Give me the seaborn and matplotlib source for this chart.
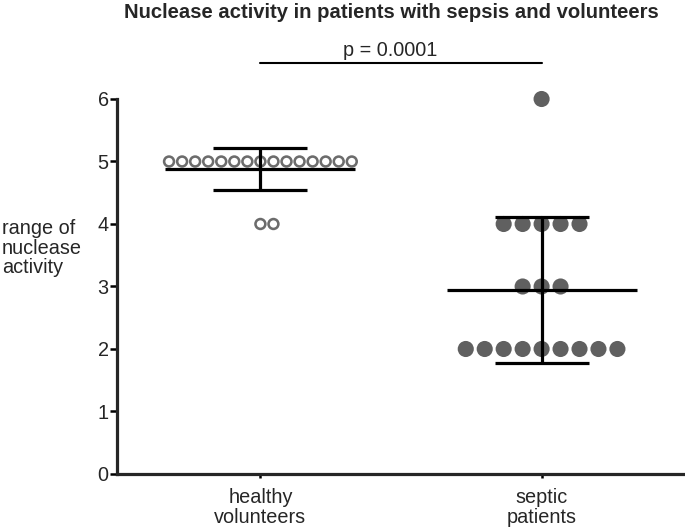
import seaborn as sns
import matplotlib.pyplot as plt
import pandas as pd
import numpy as np

# Data
groups = ['healthy\nvolunteers', 'septic\npatients']
healthy_values = [5] * 15 + [4] * 2
septic_values = [6] + [4] * 5 + [3] * 3 + [2] * 9
y_ticks = [0, 1, 2, 3, 4, 5, 6]
p_label = 'p = 0.0001'

df = pd.DataFrame({
    'group': [groups[0]] * len(healthy_values) + [groups[1]] * len(septic_values),
    'activity': healthy_values + septic_values,
})

sns.set_style('ticks')
plt.rcParams['font.family'] = ['Liberation Sans', 'DejaVu Sans']

fig = plt.figure(figsize=(6.85, 5.28), dpi=100)
ax = fig.add_axes([0.1708, 0.1023, 0.8292, 0.7102])

# edge width counts in the swarm spacing, so an invisible edge leaves small gaps
sns.swarmplot(data=df, x='group', y='activity', order=groups, hue='group',
              palette=['#6a6a6a', '#606060'], size=11.6, linewidth=1.4,
              edgecolor='none', legend=False, ax=ax, zorder=3)

# style each group's points (swarm layout is computed at draw time)
for coll in ax.collections:
    offs = coll.get_offsets()
    if len(offs) == 0:
        continue
    coll.set_clip_on(False)
    if round(float(np.mean(offs[:, 0]))) == 0:
        # healthy volunteers: open grey circles
        coll.set_sizes([7.1 ** 2])
        coll.set_facecolor('none')
        coll.set_edgecolor('#6c6c6c')
        coll.set_linewidth(1.85)
    else:
        coll.set_edgecolor('none')

# mean +/- SD
stats = df.groupby('group', sort=False)['activity'].agg(['mean', 'std'])
for i, g in enumerate(groups):
    m, s = stats.loc[g, 'mean'], stats.loc[g, 'std']
    ax.hlines(m, i - 0.338, i + 0.338, color='black', lw=2.3, zorder=4)
    ax.vlines(i, m - s, m + s, color='black', lw=2.3, zorder=4)
    ax.hlines([m - s, m + s], i - 0.167, i + 0.167, color='black', lw=2.3, zorder=4)

ax.set_xlim(-0.51, 1.51)
ax.set_ylim(0, 6)
ax.set_yticks(y_ticks)
ax.set_xlabel('')
ax.set_ylabel('')
sns.despine(ax=ax)
for side in ['left', 'bottom']:
    ax.spines[side].set_linewidth(2.3)
ax.tick_params(axis='y', length=5, width=1.8, labelsize=14.3, pad=1, color='black')
ax.tick_params(axis='x', length=3, width=1.8, labelsize=14.3, pad=7, color='black')
for lab in ax.get_xticklabels():
    lab.set_linespacing(1.1)

# significance bracket
ax.plot([0, 1], [6.58, 6.58], color='black', lw=1.5, clip_on=False)
ax.text(0.46, 6.62, p_label, ha='center', va='bottom', fontsize=14.3)

fig.text(0.572, 0.977, 'Nuclease activity in patients with sepsis and volunteers',
         ha='center', va='center', fontsize=14.6, fontweight='bold')
fig.text(0.003, 0.53, 'range of\nnuclease\nactivity', ha='left', va='center',
         fontsize=14.3, linespacing=1.05)

plt.savefig('out.png', dpi=100)
plt.close()
